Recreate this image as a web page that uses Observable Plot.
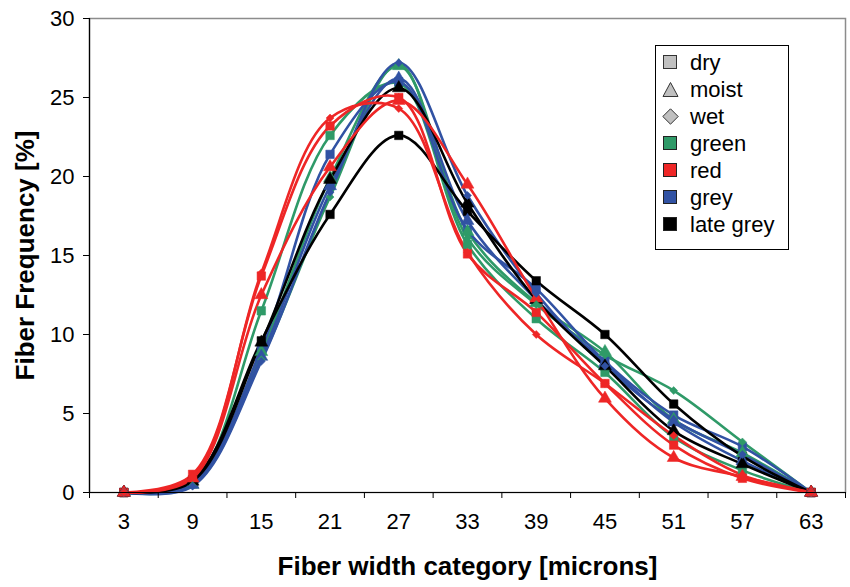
<!DOCTYPE html>
<html>
<head>
<meta charset="utf-8">
<script src="https://cdn.jsdelivr.net/npm/d3@7"></script>
<script src="https://cdn.jsdelivr.net/npm/@observablehq/plot@0.6"></script>
<style>
  body { margin: 0; background: #fff; }
  #wrap { position: relative; width: 850px; height: 587px; font-family: "Liberation Sans", Arial, sans-serif; }
  #legend {
    position: absolute; left: 655px; top: 45px; width: 134px; height: 205px;
    border: 1px solid #000; background: #fff; box-sizing: border-box;
  }
  .row { position: absolute; left: 0; height: 27px; display: flex; align-items: center; font-size: 22px; color: #000; }
  .row svg { margin-left: 6px; margin-right: 11px; }
</style>
</head>
<body>
<div id="wrap">
  <div id="chart"></div>
  <div id="legend"></div>
</div>
<script>
// Fiber width categories (microns)
const widths = [3, 9, 15, 21, 27, 33, 39, 45, 51, 57, 63];
const xBoundaries = [0, 6, 12, 18, 24, 30, 36, 42, 48, 54, 60, 66];
const yTicks = [0, 5, 10, 15, 20, 25, 30];

// Fiber frequency [%] per width category
const greenDry   = [0, 0.6, 11.5, 22.6, 25.9, 15.7, 11.0, 7.6, 3.5, 1.4, 0];
const greenMoist = [0, 0.5, 8.9, 19.9, 27.0, 16.5, 12.0, 8.9, 4.6, 2.5, 0];
const greenWet   = [0, 0.45, 8.4, 18.7, 27.1, 16.1, 11.9, 8.7, 6.45, 3.2, 0];
const redDry     = [0, 1.15, 13.7, 23.2, 25.0, 15.1, 11.4, 6.9, 3.0, 0.9, 0];
const redMoist   = [0, 0.9, 12.5, 20.6, 24.8, 19.5, 12.3, 5.95, 2.2, 1.0, 0];
const redWet     = [0, 1.0, 13.9, 23.7, 24.3, 15.2, 10.0, 6.9, 3.6, 1.1, 0];
const greyDry    = [0, 0.55, 9.1, 21.4, 26.0, 16.6, 12.9, 8.3, 4.9, 2.9, 0];
const greyMoist  = [0, 0.5, 8.6, 19.4, 26.2, 17.2, 12.2, 8.2, 4.45, 2.0, 0];
const greyWet    = [0, 0.4, 8.3, 19.0, 27.2, 18.8, 12.6, 8.0, 4.6, 2.4, 0];
const lateGreyDry   = [0, 0.8, 9.6, 17.6, 22.6, 17.8, 13.4, 10.0, 5.6, 2.3, 0];
const lateGreyMoist = [0, 0.7, 9.5, 19.8, 25.6, 18.3, 12.2, 8.0, 3.9, 1.8, 0];

const colors = { green: "#2f9a68", red: "#ee2626", grey: "#3152a3", "late grey": "#000000" };
const symbols = { dry: "square", moist: "triangle", wet: "diamond2" };

const series = [
  ["green", "dry", greenDry], ["green", "moist", greenMoist], ["green", "wet", greenWet],
  ["grey", "dry", greyDry], ["grey", "moist", greyMoist], ["grey", "wet", greyWet],
  ["late grey", "dry", lateGreyDry], ["late grey", "moist", lateGreyMoist],
  ["red", "dry", redDry], ["red", "moist", redMoist], ["red", "wet", redWet]
];

const rows = series.flatMap(([stage, cond, vals]) =>
  vals.map((v, i) => ({ series: stage + " " + cond, stage, cond, width: widths[i], value: v, color: colors[stage] }))
);

const dotsFor = (cond, r) => Plot.dot(rows.filter(d => d.cond === cond), {
  x: "width", y: "value", symbol: () => symbols[cond], r,
  fill: "color", stroke: "color", strokeWidth: 0.5
});

const chart = Plot.plot({
  width: 850,
  height: 587,
  marginLeft: 89,
  marginRight: 5,
  marginTop: 18,
  marginBottom: 95,
  style: { fontFamily: "Liberation Sans, Arial, sans-serif", fontSize: "22px", color: "#000", background: "#fff" },
  x: { domain: [0, 66], axis: null },
  y: { domain: [0, 30], axis: null },
  color: { type: "identity" },
  symbol: { type: "identity" },
  marks: [
    Plot.frame({ stroke: "#8c8c8c", strokeWidth: 1.5 }),
    Plot.line(rows, { x: "width", y: "value", z: "series", stroke: "color", strokeWidth: 2.6, curve: "catmull-rom" }),
    dotsFor("dry", 4.8),
    dotsFor("moist", 4.8),
    dotsFor("wet", 3.6),
    Plot.ruleX([0], { stroke: "#000", strokeWidth: 1.2 }),
    Plot.ruleY([0], { stroke: "#000", strokeWidth: 1.2 }),
    Plot.axisY({ ticks: yTicks, label: null, tickSize: 6, tickPadding: 9, fontSize: 22, stroke: "#000", strokeOpacity: 1 }),
    Plot.axisX({ ticks: xBoundaries, label: null, tickSize: 6, tickFormat: () => "", stroke: "#000", strokeOpacity: 1 }),
    Plot.axisX({ ticks: widths, label: null, tickSize: 0, tickPadding: 21, fontSize: 22 }),
    Plot.text(["Fiber width category [microns]"], {
      frameAnchor: "bottom", dy: 82, fontSize: 26, fontWeight: "bold", fill: "#000"
    }),
    Plot.text(["Fiber Frequency [%]"], {
      frameAnchor: "left", dx: -64, rotate: -90, textAnchor: "middle", fontSize: 26, fontWeight: "bold", fill: "#000"
    })
  ]
});
document.getElementById("chart").appendChild(chart);

// Legend: conditions (grey symbols) then stages (coloured squares)
const legendItems = [
  { label: "dry", shape: "square", fill: "#c0c0c0" },
  { label: "moist", shape: "triangle", fill: "#c0c0c0" },
  { label: "wet", shape: "diamond", fill: "#c0c0c0" },
  { label: "green", shape: "square", fill: colors.green },
  { label: "red", shape: "square", fill: colors.red },
  { label: "grey", shape: "square", fill: colors.grey },
  { label: "late grey", shape: "square", fill: colors["late grey"] }
];
const legend = d3.select("#legend");
legendItems.forEach((item, i) => {
  const row = legend.append("div").attr("class", "row").style("top", (3 + i * 27) + "px");
  const svg = row.append("svg").attr("width", 17).attr("height", 17);
  const stroke = item.fill === "#c0c0c0" ? "#333" : "#222";
  if (item.shape === "square") {
    svg.append("rect").attr("x", 1.5).attr("y", 1.5).attr("width", 13).attr("height", 13)
      .attr("fill", item.fill).attr("stroke", stroke).attr("stroke-width", 1);
  } else if (item.shape === "triangle") {
    svg.append("path").attr("d", "M8.5,1.5 L16,15.5 L1,15.5 Z")
      .attr("fill", item.fill).attr("stroke", stroke).attr("stroke-width", 1);
  } else {
    svg.append("path").attr("d", "M8.5,0.8 L16.2,8.5 L8.5,16.2 L0.8,8.5 Z")
      .attr("fill", item.fill).attr("stroke", stroke).attr("stroke-width", 1);
  }
  row.append("span").text(item.label);
});
</script>
</body>
</html>
